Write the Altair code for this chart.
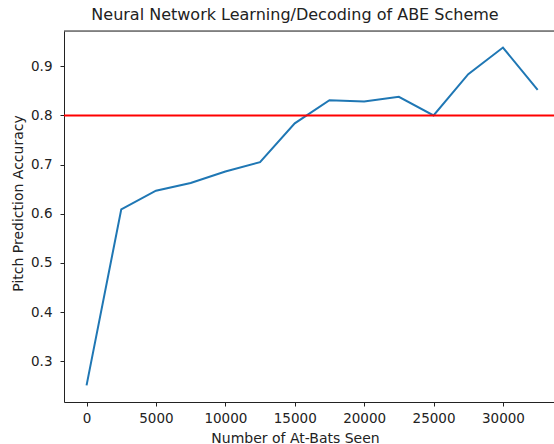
import altair as alt
import pandas as pd

at_bats = [0, 2500, 5000, 7500, 10000, 12500, 15000, 17500, 20000, 22500, 25000, 27500, 30000, 32500]
accuracy = [0.251, 0.609, 0.647, 0.6625, 0.686, 0.705, 0.784, 0.831, 0.8285, 0.838, 0.800, 0.884, 0.938, 0.852]
threshold = [0.8]
x_ticks = [0, 5000, 10000, 15000, 20000, 25000, 30000]
y_ticks = [0.3, 0.4, 0.5, 0.6, 0.7, 0.8, 0.9]

df = pd.DataFrame({"x": at_bats, "y": accuracy})
thr = pd.DataFrame({"y": threshold})

W, H = 490, 371
FONT = "DejaVu Sans"
TXT = "#222222"

xscale = alt.Scale(domain=[-1625, 33678], nice=False, zero=False)
yscale = alt.Scale(domain=[0.2173, 0.9717], nice=False, zero=False)

xaxis = alt.Axis(values=x_ticks, format="d", grid=False, tickSize=4, labelPadding=5,
                 labelFontSize=13.5, labelFont=FONT, labelColor=TXT, domainColor=TXT,
                 tickColor=TXT, title="Number of At-Bats Seen", titleFont=FONT,
                 titleFontSize=14, titleFontWeight="normal", titleColor=TXT,
                 titleX=231, titleY=40, titleAlign="center", titleBaseline="alphabetic")
yaxis = alt.Axis(values=y_ticks, format=".1f", grid=False, tickSize=4, labelPadding=8,
                 labelFontSize=13.5, labelFont=FONT, labelColor=TXT, domainColor=TXT,
                 tickColor=TXT, title="Pitch Prediction Accuracy", titleFont=FONT,
                 titleFontSize=14, titleFontWeight="normal", titleColor=TXT,
                 titleX=-46, titleY=172, titleAngle=270, titleAlign="center",
                 titleBaseline="middle")

line = alt.Chart(df).mark_line(color="#1f77b4", strokeWidth=2).encode(
    x=alt.X("x:Q", scale=xscale, axis=xaxis),
    y=alt.Y("y:Q", scale=yscale, axis=yaxis),
)

hline = alt.Chart(thr).mark_rule(color="red", strokeWidth=2).encode(
    y=alt.Y("y:Q", scale=yscale)
)

top_spine = alt.Chart(thr).mark_rule(color=TXT, strokeWidth=1).encode(
    x=alt.value(0), x2=alt.value(W), y=alt.value(0)
)

chart = alt.layer(line, hline, top_spine).properties(
    width=W, height=H,
    autosize=alt.AutoSizeParams(type="none"),
    padding={"left": 64, "top": 31, "right": 0, "bottom": 42},
    title=alt.TitleParams("Neural Network Learning/Decoding of ABE Scheme", font=FONT,
                          fontSize=16, fontWeight="normal", color=TXT, anchor="middle",
                          dx=-14, offset=8, frame="group"),
).configure_view(stroke=None).configure(background="white")

chart.save("out.html", embed_options={"renderer": "svg", "actions": False})
